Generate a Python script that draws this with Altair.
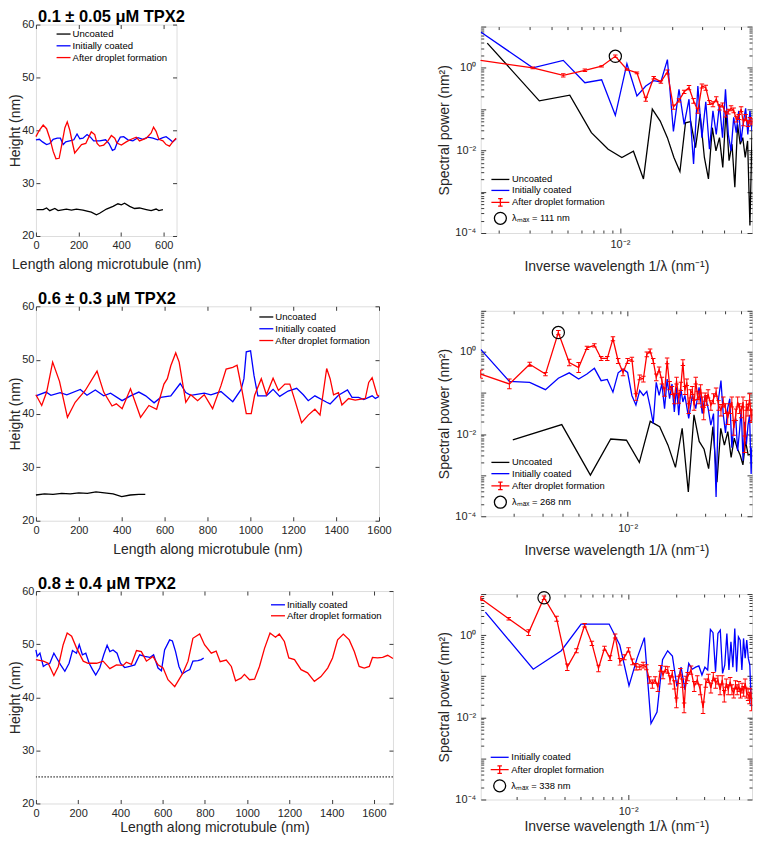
import altair as alt
import pandas as pd

FONT = "Liberation Sans"
INK = "#262626"
UNC, COAT, DROP = "Uncoated", "Initially coated", "After droplet formation"
COLORS = {UNC: "#000000", COAT: "#0000ff", DROP: "#ff0000"}

# ================= height profiles (nm, nm) =================
# 0.1 +/- 0.05 uM
tl_unc_x = [3, 34, 50, 65, 89, 104, 143, 167, 190, 221, 240, 260, 284, 299, 331, 362, 385, 401, 416, 440, 463, 486, 518, 541, 564, 577, 596]
tl_unc_y = [25.0, 25.0, 25.3, 24.8, 25.2, 24.8, 25.1, 24.9, 25.1, 24.9, 24.7, 24.5, 24.0, 24.3, 25.1, 25.6, 26.1, 25.9, 26.2, 25.6, 25.2, 25.3, 25.0, 24.8, 25.1, 24.8, 25.0]
tl_coat_x = [0, 16, 31, 50, 65, 81, 100, 115, 128, 140, 159, 178, 193, 206, 221, 240, 256, 271, 299, 327, 343, 359, 370, 380, 396, 412, 432, 455, 479, 502, 525, 549, 572, 596, 611, 627, 642, 658]
tl_coat_y = [38.2, 38.3, 37.8, 37.3, 37.5, 38.3, 38.5, 38.5, 37.3, 37.8, 38.0, 38.2, 39.3, 38.4, 38.5, 39.2, 38.7, 38.0, 38.0, 38.2, 37.5, 36.2, 36.4, 37.5, 38.7, 38.8, 38.2, 38.0, 38.6, 38.3, 38.7, 38.5, 38.2, 38.6, 38.8, 38.3, 37.8, 38.4]
tl_drop_x = [0, 16, 34, 50, 65, 81, 94, 109, 120, 136, 147, 159, 172, 182, 198, 214, 234, 249, 260, 276, 287, 299, 318, 338, 354, 370, 380, 401, 424, 447, 471, 486, 518, 541, 552, 564, 577, 596, 611, 627, 642, 658]
tl_drop_y = [38.8, 40.0, 41.0, 40.3, 38.5, 36.0, 34.6, 34.7, 37.0, 40.5, 41.6, 40.0, 37.5, 35.7, 36.5, 37.3, 37.5, 38.8, 39.7, 39.2, 37.5, 37.0, 37.2, 38.0, 39.0, 38.5, 37.6, 37.2, 37.8, 38.3, 38.7, 38.0, 38.5, 39.5, 40.6, 39.8, 38.3, 38.0, 37.3, 37.0, 37.8, 38.5]

# 0.6 +/- 0.3 uM
ml_unc_x = [0, 40, 80, 120, 160, 200, 240, 280, 320, 360, 400, 440, 480, 510]
ml_unc_y = [24.8, 25.0, 24.9, 25.1, 25.0, 25.2, 25.1, 25.4, 25.2, 25.0, 24.5, 24.8, 24.9, 24.9]
ml_coat_x = [0, 47, 70, 113, 144, 207, 238, 277, 316, 348, 402, 441, 480, 512, 551, 582, 629, 673, 699, 722, 785, 816, 863, 918, 957, 970, 981, 1001, 1017, 1035, 1075, 1106, 1137, 1176, 1216, 1247, 1270, 1301, 1356, 1372, 1411, 1453, 1474, 1505, 1529, 1568, 1583, 1600]
ml_coat_y = [43.3, 44.0, 43.4, 43.9, 43.5, 44.5, 43.4, 44.4, 43.3, 43.8, 42.4, 43.3, 44.0, 43.3, 42.0, 43.0, 43.3, 45.6, 43.9, 43.4, 43.8, 43.5, 44.1, 42.2, 44.5, 46.5, 51.5, 51.7, 47.1, 43.3, 43.3, 44.5, 43.2, 44.2, 44.7, 43.5, 42.4, 43.3, 42.1, 41.8, 43.4, 44.4, 43.0, 43.0, 42.6, 43.3, 42.8, 43.2]
ml_drop_x = [0, 27, 50, 78, 110, 147, 183, 230, 285, 316, 355, 375, 402, 441, 488, 527, 563, 597, 613, 629, 652, 668, 699, 722, 754, 785, 824, 863, 887, 918, 938, 957, 981, 1004, 1020, 1051, 1075, 1106, 1131, 1161, 1184, 1208, 1239, 1270, 1301, 1325, 1356, 1372, 1388, 1411, 1427, 1458, 1489, 1536, 1552, 1568, 1591, 1600]
ml_drop_y = [43.5, 41.5, 44.0, 49.6, 46.0, 39.3, 42.1, 44.3, 47.9, 44.0, 41.4, 41.8, 40.9, 44.6, 39.3, 41.5, 40.8, 45.5, 46.5, 48.9, 51.3, 49.6, 42.1, 43.5, 42.4, 43.5, 40.9, 45.2, 48.3, 48.6, 49.0, 45.2, 40.0, 40.0, 43.4, 46.5, 43.5, 46.6, 44.3, 45.5, 45.5, 42.4, 38.3, 39.7, 40.8, 39.7, 48.4, 46.5, 43.5, 43.9, 41.6, 42.8, 42.5, 42.8, 45.8, 46.7, 43.5, 43.2]

# 0.8 +/- 0.4 uM
bl_unc_level = [25.0]
bl_coat_x = [0, 6, 19, 35, 50, 66, 85, 98, 117, 137, 157, 173, 192, 205, 220, 236, 252, 268, 283, 302, 321, 337, 350, 365, 384, 400, 420, 444, 468, 491, 515, 539, 557, 578, 594, 609, 633, 646, 661, 677, 693, 712, 728, 743, 767, 783, 794]
bl_coat_y = [48.9, 47.7, 48.3, 45.8, 46.2, 46.4, 48.3, 47.4, 46.1, 44.9, 46.4, 48.8, 48.3, 49.9, 48.0, 48.3, 46.4, 45.2, 44.2, 45.5, 48.0, 49.8, 48.6, 48.9, 48.3, 46.4, 45.6, 45.8, 46.1, 48.0, 47.7, 47.5, 48.0, 45.5, 45.0, 48.9, 50.8, 50.6, 48.6, 45.8, 44.4, 44.9, 45.2, 46.8, 46.9, 47.1, 47.4]
bl_drop_x = [0, 35, 58, 85, 106, 129, 148, 169, 192, 224, 247, 287, 318, 350, 381, 413, 428, 452, 476, 499, 523, 554, 578, 602, 625, 657, 672, 696, 720, 743, 775, 798, 830, 853, 872, 901, 925, 945, 971, 987, 1011, 1035, 1058, 1082, 1108, 1134, 1152, 1176, 1197, 1224, 1255, 1286, 1318, 1349, 1381, 1404, 1428, 1455, 1483, 1507, 1530, 1554, 1578, 1593, 1617, 1641, 1665, 1690]
bl_drop_y = [47.1, 46.8, 46.4, 44.1, 45.8, 49.9, 52.1, 51.5, 49.3, 46.8, 46.4, 46.4, 46.8, 45.4, 46.1, 46.0, 46.6, 46.2, 48.8, 48.6, 46.8, 47.7, 46.1, 45.5, 43.3, 42.0, 43.0, 44.6, 46.8, 51.1, 51.9, 49.9, 48.3, 48.7, 46.7, 47.0, 45.8, 43.1, 43.6, 44.3, 43.3, 43.4, 45.8, 49.2, 52.1, 51.3, 51.9, 50.5, 47.4, 47.1, 45.2, 44.6, 43.0, 43.9, 45.5, 47.4, 50.8, 51.9, 50.8, 48.6, 45.8, 45.5, 45.8, 47.5, 47.4, 47.5, 47.9, 47.3]

# ================= spectra: harmonic index k, profile length L (nm), log10 power (nm^2) =================
tr_L, tr_unc_L = 638.0, 585.0
tr_k = [1, 2, 3, 4, 5, 6, 7, 8, 9, 10, 11, 12, 13, 14, 15, 16, 17, 18, 19, 20, 21, 22, 23, 24, 25, 26, 27, 28, 29, 30, 31, 32, 33, 34, 35, 36, 37]
tr_unc_k = [1, 2, 3, 4, 5, 6, 7, 8, 9, 10, 11, 12, 13, 14, 15, 16, 17, 18, 19, 20, 21, 22, 23, 24, 25, 26, 27, 28, 29, 30, 31, 32, 33, 34]
tr_unc_lg = [0.60, -0.80, -0.66, -1.57, -1.97, -2.17, -2.02, -2.69, -1.00, -1.29, -1.69, -2.17, -2.51, -1.33, -1.30, -1.93, -1.12, -2.17, -2.69, -1.45, -2.01, -1.69, -2.41, -1.04, -2.25, -1.85, -2.89, -1.37, -1.85, -1.69, -2.17, -1.77, -3.82, -1.45]
tr_coat_lg = [0.87, 0.0, 0.18, -0.36, -0.29, -1.15, 0.10, -0.68, -0.44, -0.31, -0.34, 0.20, -1.54, -0.52, -1.37, -0.76, -2.33, -0.44, -1.69, -0.82, -1.97, -1.04, -1.61, -0.88, -1.69, -0.52, -1.61, -2.01, -1.20, -1.57, -1.04, -1.78, -1.29, -0.98, -1.61, -1.04, -1.53]
tr_drop_lg = [0.18, 0.0, -0.18, -0.06, 0.04, 0.28, -0.04, -0.12, -0.76, -0.24, -0.34, -0.10, -0.95, -0.79, -0.58, -0.48, -0.80, -1.04, -0.44, -0.48, -0.84, -0.88, -0.76, -0.96, -0.90, -1.12, -1.06, -0.98, -1.03, -1.24, -1.19, -1.00, -1.33, -1.20, -1.35, -1.27, -1.30]
tr_drop_err = [0.0, 0.02, 0.04, 0.03, 0.02, 0.03, 0.02, 0.02, 0.05, 0.03, 0.03, 0.05, 0.05, 0.04, 0.04, 0.05, 0.06, 0.06, 0.05, 0.06, 0.05, 0.06, 0.06, 0.06, 0.05, 0.07, 0.06, 0.06, 0.06, 0.07, 0.06, 0.06, 0.07, 0.07, 0.07, 0.07, 0.08]

mr_L, mr_unc_L = 1600.0, 508.0
mr_unc_k = [1, 2, 3, 4, 5, 6, 7, 8, 9, 10, 11, 12, 13, 14, 15, 16, 17, 18, 19, 20, 21, 22, 23, 24, 25, 26, 27, 28, 29]
mr_unc_lg = [-2.14, -1.77, -3.00, -2.12, -2.15, -2.69, -1.69, -1.82, -2.27, -2.81, -1.86, -3.41, -1.53, -2.18, -2.37, -2.84, -1.82, -3.17, -1.86, -2.27, -1.94, -2.57, -2.10, -2.35, -2.51, -2.75, -2.18, -2.51, -2.49]
mr_coat_k = [2, 3, 4, 5, 6, 7, 8, 9, 10, 11, 12, 13, 14, 15, 16, 17, 18, 19, 20, 21, 22, 23, 24, 25, 26, 27, 28, 29, 30, 31, 32, 33, 34, 35, 36,
             38, 40, 42, 44, 46, 48, 50, 52, 54, 56, 58, 60, 62, 64, 66, 68, 70, 72, 74, 76, 78, 80, 82, 84, 86, 88, 90, 92, 93]
mr_coat_lg = [0.06, -0.72, -0.74, -0.92, -0.64, -0.51, -0.66, -0.54, -0.40, -0.70, -0.67, -0.98, -0.51, -0.42, -0.50, -1.06, -1.29, -0.94, -1.06, -0.96,
              -1.33, -1.74, -0.74, -1.06, -0.78, -1.38, -0.66, -1.14, -0.78, -1.46, -0.86, -1.54, -0.90, -1.22, -1.06,
              -1.62, -1.06, -1.38, -0.86, -1.50, -1.06, -1.37, -1.78, -1.50, -3.53, -1.14, -0.70, -1.53, -1.97, -1.37, -1.14, -2.33, -1.78, -1.62,
              -2.41, -1.93, -1.38, -2.65, -1.70, -2.25, -1.78, -1.54, -2.97, -2.33]
mr_drop_k = [2, 3, 4, 5, 6, 7, 8, 9, 10, 11, 12, 13, 14, 15, 16, 17, 18, 19, 20, 21, 22, 23, 24, 25, 26, 27, 28, 29, 30, 31, 32, 33, 34, 35, 36,
             37, 38, 39, 40, 41, 42, 43, 44, 45, 46, 47, 48, 49, 50, 52, 54, 56, 58, 60, 62, 64, 66, 68, 70, 72, 74, 76, 78, 80, 82, 84, 86,
             88, 90, 92, 93]
mr_drop_lg = [-0.54, -0.78, -0.30, -0.54, 0.47, -0.26, -0.38, 0.10, 0.16, -0.16,
              -0.16, 0.32, -0.22, -0.50, -0.22, -0.18, -1.10, -0.62, -0.66, -0.06,
              0.02, -0.22, -0.62, -0.43, -0.70, -0.98, -0.22, -0.82, -0.94, -1.14,
              -0.70, -1.13, -0.84, -0.26, -0.94, -0.74, -1.38, -1.02, -0.94, -1.30,
              -0.70, -1.06, -1.14, -0.90, -1.22, -1.50, -1.10, -1.18, -1.02,
              -1.30, -1.14, -0.98, -1.30, -1.42, -1.22, -1.38, -1.62, -1.38, -1.22, -1.85, -1.53, -1.22, -1.38, -1.46, -1.22, -2.25, -1.30, -1.42, -1.14, -1.57,
              -1.53]
mr_drop_err = [0.10, 0.12, 0.05, 0.04, 0.05, 0.08, 0.12, 0.04, 0.04, 0.05,
               0.05, 0.05, 0.06, 0.08, 0.06, 0.05, 0.08, 0.06, 0.07, 0.06,
               0.05, 0.06, 0.08, 0.06, 0.08, 0.10, 0.07, 0.10, 0.10, 0.12,
               0.08, 0.12, 0.10, 0.07, 0.10, 0.08, 0.12, 0.10, 0.10, 0.12,
               0.08, 0.10, 0.12, 0.10, 0.12, 0.15, 0.10, 0.12, 0.10,
               0.12, 0.12, 0.10, 0.12, 0.14, 0.12, 0.12, 0.15, 0.12, 0.12, 0.18, 0.14, 0.12, 0.12, 0.14, 0.12, 0.20, 0.12, 0.14, 0.12, 0.15,
               0.14]

br_L, br_coat_L = 1690.0, 790.0
br_coat_k = [1, 2, 3, 4, 5, 6, 7, 8, 9, 10, 11, 12, 13, 14, 15, 16, 17, 18, 19, 20, 21, 22, 23, 24, 25, 26, 27, 28, 29, 30, 31, 32, 33, 34, 35, 36, 37, 38, 39, 40, 41, 42, 43, 44, 45, 46, 47]
br_coat_lg = [0.56, -0.83, -0.38, 0.27, 0.27, 0.27, -0.24, -1.23, -0.56, -0.06,
              -2.15, -1.87, -0.60, -0.38, -0.51, -1.25, -0.78, -1.33, -0.69, -0.83,
              -0.78, -0.75, -0.97, -0.78, -0.85, 0.14, 0.06, -0.89, 0.04, 0.12,
              -0.93, -0.73, 0.04, -0.85, -0.16, -0.78, 0.16, -0.89, -0.04, -0.12,
              -0.85, -0.08, -0.56, -0.12, -0.56, -0.73, -1.73]
br_drop_k = [2, 3, 4, 5, 6, 7, 8, 9, 10, 11, 12, 13, 14, 15, 16, 17, 18, 19, 20, 21, 22, 23, 24, 25, 26, 27, 28, 29, 30, 31, 32, 33, 34, 35, 36, 37, 38, 39, 40,
             42, 44, 46, 48, 50, 52, 54, 56, 58, 60, 62, 64, 66, 68, 70, 72, 74, 76, 78, 80, 82, 84, 86, 88, 90, 92, 94, 96, 98, 100, 101]
br_drop_lg = [0.89, 0.40, 0.06, 0.91, 0.40, -0.78, -0.38, 0.24, -0.20, -0.81,
              -0.32, -0.56, -0.02, -0.65, -0.54, -0.36, -0.65, -0.77, -0.78, -0.73,
              -0.78, -1.09, -1.19, -1.09, -1.27, -0.81, -0.97, -0.83, -0.85, -1.09,
              -0.94, -1.21, -1.65, -1.09, -0.89, -1.17, -1.77, -1.09, -1.01,
              -0.85, -1.25, -1.09, -1.33, -1.77, -1.17, -1.05, -1.29, -1.01, -1.17,
              -1.09, -1.33, -1.09, -1.49, -1.17, -1.33, -1.13, -1.33, -1.41, -1.21,
              -1.33, -1.25, -1.41, -1.29, -1.37, -1.17, -1.41, -1.45, -1.53, -1.41,
              -1.69]
br_drop_err = [0.05, 0.03, 0.07, 0.04, 0.06, 0.08, 0.05, 0.04, 0.05, 0.08,
               0.05, 0.06, 0.05, 0.08, 0.06, 0.05, 0.07, 0.08, 0.06, 0.07,
               0.06, 0.08, 0.10, 0.08, 0.10, 0.07, 0.09, 0.07, 0.08, 0.10,
               0.08, 0.10, 0.12, 0.09, 0.08, 0.10, 0.12, 0.09, 0.10,
               0.10, 0.12, 0.10, 0.12, 0.14, 0.10, 0.10, 0.12, 0.10, 0.12,
               0.10, 0.12, 0.10, 0.14, 0.10, 0.12, 0.10, 0.12, 0.12, 0.10,
               0.12, 0.12, 0.12, 0.12, 0.12, 0.10, 0.12, 0.14, 0.14, 0.12,
               0.15]

titles = ["0.1 \u00b1 0.05 \u03bcM TPX2", "0.6 \u00b1 0.3 \u03bcM TPX2", "0.8 \u00b1 0.4 \u03bcM TPX2"]
lam_labels = ["\u03bb\u2098\u2090\u2093 = 111 nm", "\u03bb\u2098\u2090\u2093 = 268 nm", "\u03bb\u2098\u2090\u2093 = 338 nm"]
x_title_len = "Length along microtubule (nm)"
y_title_len = "Height (nm)"
x_title_f = "Inverse wavelength 1/\u03bb (nm\u207b\u00b9)"
y_title_p = "Spectral power (nm\u00b2)"

# tick positions
LIN_Y = [20, 30, 40, 50, 60]
LOG_Y_MAJOR = [0.0001, 0.001, 0.01, 0.1, 1, 10]
LOG_Y = sorted(set(LOG_Y_MAJOR + [round(m * 10.0 ** e, 12) for e in range(-4, 1) for m in range(2, 10)]))
LOG_X = [0.002, 0.003, 0.004, 0.005, 0.006, 0.007, 0.008, 0.009, 0.01, 0.02, 0.03, 0.04, 0.05]

LINE_SHORT = "M-1.4,0H1.4"
LINE_LONG = "M-1.8,0H1.8"
ERR_SYM = "M-1.8,0H1.8M0,-0.75V0.75M-0.45,-0.75H0.45M-0.45,0.75H0.45"
CIRC_SYM = "M-1.2,0A1.2,1.2,0,1,1,1.2,0A1.2,1.2,0,1,1,-1.2,0Z"

TITLE_OFFSET = -20.0
SPEC_W = 272


def tick_dash(span, t):
    return [t, span - 2 * t, t, 4000]


def axis_style(**kw):
    base = dict(grid=True, gridColor=INK, gridWidth=0.9, gridOpacity=1, ticks=False, domain=False,
                labelFont=FONT, labelFontSize=11, labelColor=INK, labelFlush=False, labelOverlap=False,
                titleFont=FONT, titleFontSize=14, titleFontWeight="normal", titleColor=INK)
    base.update(kw)
    return alt.Axis(**base)


def title_params(text, offset):
    return alt.TitleParams(text=text, anchor="start", frame="group", font=FONT, fontSize=16.5,
                           fontWeight="bold", color="#000000", offset=offset, baseline="alphabetic", dx=2)


def profile_panel(series, xmax, xvals, w, h, title, lx, ly, row_pad, xtitle_pad, dotted=None):
    xa = axis_style(values=xvals, format="d", title=x_title_len, gridDash=tick_dash(h, 4), labelPadding=4, titlePadding=xtitle_pad)
    ya = axis_style(values=LIN_Y, title=y_title_len, gridDash=tick_dash(w, 4), labelPadding=2, titlePadding=-1)
    X = alt.X("x:Q", scale=alt.Scale(domain=[0, xmax], nice=False, zero=False), axis=xa)
    Y = alt.Y("y:Q", scale=alt.Scale(domain=[20, 60], nice=False, zero=False), axis=ya)
    names = [s[0] for s in series]
    C = alt.Color("s:N", scale=alt.Scale(domain=names, range=[COLORS[n] for n in names]),
                  legend=alt.Legend(title=None, orient="none", legendX=lx, legendY=ly, symbolType=LINE_SHORT,
                                    symbolSize=100, symbolStrokeWidth=1.3, symbolFillColor="transparent",
                                    labelFont=FONT, labelFontSize=9.6, labelColor="#000000", labelOffset=3,
                                    rowPadding=row_pad, padding=0))
    layers = []
    if dotted is not None:
        layers.append(alt.Chart(pd.DataFrame({"y": dotted})).mark_rule(color="#000000", strokeWidth=1, strokeDash=[1.5, 1.5]).encode(y=Y))
    for name, xs, ys in series:
        df = pd.DataFrame({"x": xs, "y": ys, "s": name})
        layers.append(alt.Chart(df).mark_line(strokeWidth=1.3).encode(x=X, y=Y, color=C))
    return alt.layer(*layers).properties(width=w, height=h, title=title_params(title, TITLE_OFFSET))


def spectral_panel(lines, drop, lam, xdom, w, h, lx, ly, row_pad, xtitle_pad):
    xa = axis_style(values=LOG_X, title=x_title_f, labelExpr="datum.value === 0.01 ? '10\u207b\u00b2' : ''",
                    gridDash={"condition": {"test": "datum.value === 0.01", "value": tick_dash(h, 5)}, "value": tick_dash(h, 3)},
                    labelPadding=6, titlePadding=xtitle_pad)
    ya = axis_style(values=LOG_Y, title=y_title_p,
                    labelExpr="datum.value === 1 ? '10\u2070' : (datum.value === 0.01 ? '10\u207b\u00b2' : (datum.value === 0.0001 ? '10\u207b\u2074' : ''))",
                    gridDash={"condition": {"test": "indexof([0.0001,0.001,0.01,0.1,1,10], datum.value) >= 0", "value": tick_dash(w, 5)},
                              "value": tick_dash(w, 3)},
                    labelPadding=5, titlePadding=3)
    xs = alt.Scale(type="log", domain=xdom, nice=False)
    ys = alt.Scale(type="log", domain=[0.0001, 10], nice=False)
    X = alt.X("f:Q", scale=xs, axis=xa)

    def Y(field):
        return alt.Y(field + ":Q", scale=ys, axis=ya)

    names = [l[0] for l in lines] + [DROP, lam]
    cols = [COLORS[l[0]] for l in lines] + [COLORS[DROP], "#000000"]
    sym = ("datum.value === '%s' ? '%s' : (datum.value === '%s' ? '%s' : '%s')"
           % (DROP, ERR_SYM, lam, CIRC_SYM, LINE_LONG))
    C = alt.Color("s:N", scale=alt.Scale(domain=names, range=cols),
                  legend=alt.Legend(title=None, orient="none", legendX=lx, legendY=ly, symbolType=alt.ExprRef(sym),
                                    symbolSize=100, symbolStrokeWidth=1.3, symbolFillColor="transparent",
                                    labelFont=FONT, labelFontSize=9.4, labelColor="#000000", labelOffset=5.7,
                                    rowPadding=row_pad, padding=0))
    layers = []
    for name, ks, L, lg in lines:
        df = pd.DataFrame({"f": [k / L for k in ks], "P": [10.0 ** v for v in lg], "s": name})
        layers.append(alt.Chart(df).mark_line(strokeWidth=1.3, clip=True).encode(x=X, y=Y("P"), color=C))
    ks, L, lg, err = drop
    ddf = pd.DataFrame({"f": [k / L for k in ks], "P": [10.0 ** v for v in lg],
                        "lo": [10.0 ** (v - e) for v, e in zip(lg, err)],
                        "hi": [10.0 ** (v + e) for v, e in zip(lg, err)], "s": DROP})
    layers.append(alt.Chart(ddf).mark_rule(color=COLORS[DROP], strokeWidth=1).encode(x=X, y=Y("lo"), y2=alt.Y2("hi:Q")))
    layers.append(alt.Chart(ddf).mark_tick(orient="horizontal", size=4.5, thickness=1, color=COLORS[DROP], opacity=1, clip=True).encode(x=X, y=Y("lo")))
    layers.append(alt.Chart(ddf).mark_tick(orient="horizontal", size=4.5, thickness=1, color=COLORS[DROP], opacity=1, clip=True).encode(x=X, y=Y("hi")))
    layers.append(alt.Chart(ddf).mark_line(strokeWidth=1.3, clip=True).encode(x=X, y=Y("P"), color=C))
    peak = ddf.loc[[ddf["P"].idxmax()], ["f", "P"]].assign(s=lam)
    layers.append(alt.Chart(peak).mark_point(filled=False, size=150, strokeWidth=1.2, opacity=1, shape="circle").encode(x=X, y=Y("P"), color=C))
    return alt.layer(*layers).properties(width=w, height=h)


TL = profile_panel([(UNC, tl_unc_x, tl_unc_y), (COAT, tl_coat_x, tl_coat_y), (DROP, tl_drop_x, tl_drop_y)],
                   660, [0, 200, 400, 600], 141, 212, titles[0], 21.7, 3.5, 0.8, 7)
ML = profile_panel([(UNC, ml_unc_x, ml_unc_y), (COAT, ml_coat_x, ml_coat_y), (DROP, ml_drop_x, ml_drop_y)],
                   1600, [0, 200, 400, 600, 800, 1000, 1200, 1400, 1600], 344, 215, titles[1], 225, 4.7, 0.8, 7)
BL = profile_panel([(COAT, bl_coat_x, bl_coat_y), (DROP, bl_drop_x, bl_drop_y)],
                   1690, [0, 200, 400, 600, 800, 1000, 1200, 1400, 1600], 358, 213, titles[2], 236.7, 7.8, 0, 2,
                   dotted=bl_unc_level)

TR = spectral_panel([(UNC, tr_unc_k, tr_unc_L, tr_unc_lg), (COAT, tr_k, tr_L, tr_coat_lg)],
                    (tr_k, tr_L, tr_drop_lg, tr_drop_err), lam_labels[0], [1 / tr_L, 0.058], SPEC_W, 207, 13.7, 147.3, 0, 10)
MR = spectral_panel([(UNC, mr_unc_k, mr_unc_L, mr_unc_lg), (COAT, mr_coat_k, mr_L, mr_coat_lg)],
                    (mr_drop_k, mr_L, mr_drop_lg, mr_drop_err), lam_labels[1], [2 / mr_L, 0.0582], SPEC_W, 206, 13.7, 146, 0.3, 10)
BR = spectral_panel([(COAT, br_coat_k, br_coat_L, br_coat_lg)],
                    (br_drop_k, br_L, br_drop_lg, br_drop_err), lam_labels[2], [2 / br_L, 0.0601], SPEC_W, 206, 13, 157.7, 0.3, 3)

# small empty band that puts the spectra column a few pixels lower than the profiles column
spacer = alt.Chart(pd.DataFrame({"v": [0]})).mark_point(opacity=0).encode(
    x=alt.value(0), y=alt.value(0)).properties(width=SPEC_W, height=1.5, view=alt.ViewBackground(stroke="transparent"))


def indep(c):
    return c.resolve_scale(color="independent").resolve_legend(color="independent")


left_col = indep(alt.vconcat(TL, ML, BL, spacing=70.5, bounds="flush"))
right_inner = indep(alt.vconcat(TR, MR, BR, spacing=78, bounds="flush"))
right_col = indep(alt.vconcat(spacer, right_inner, spacing=0, bounds="flush"))
chart = indep(alt.hconcat(left_col, right_col, spacing=40, bounds="full")).properties(
    padding={"left": 0, "top": -0.5, "right": 0, "bottom": 0}
).configure_view(stroke=INK, strokeWidth=1).configure(font=FONT, background="#ffffff")

chart.save("out.html", embed_options={"renderer": "svg", "actions": False})
